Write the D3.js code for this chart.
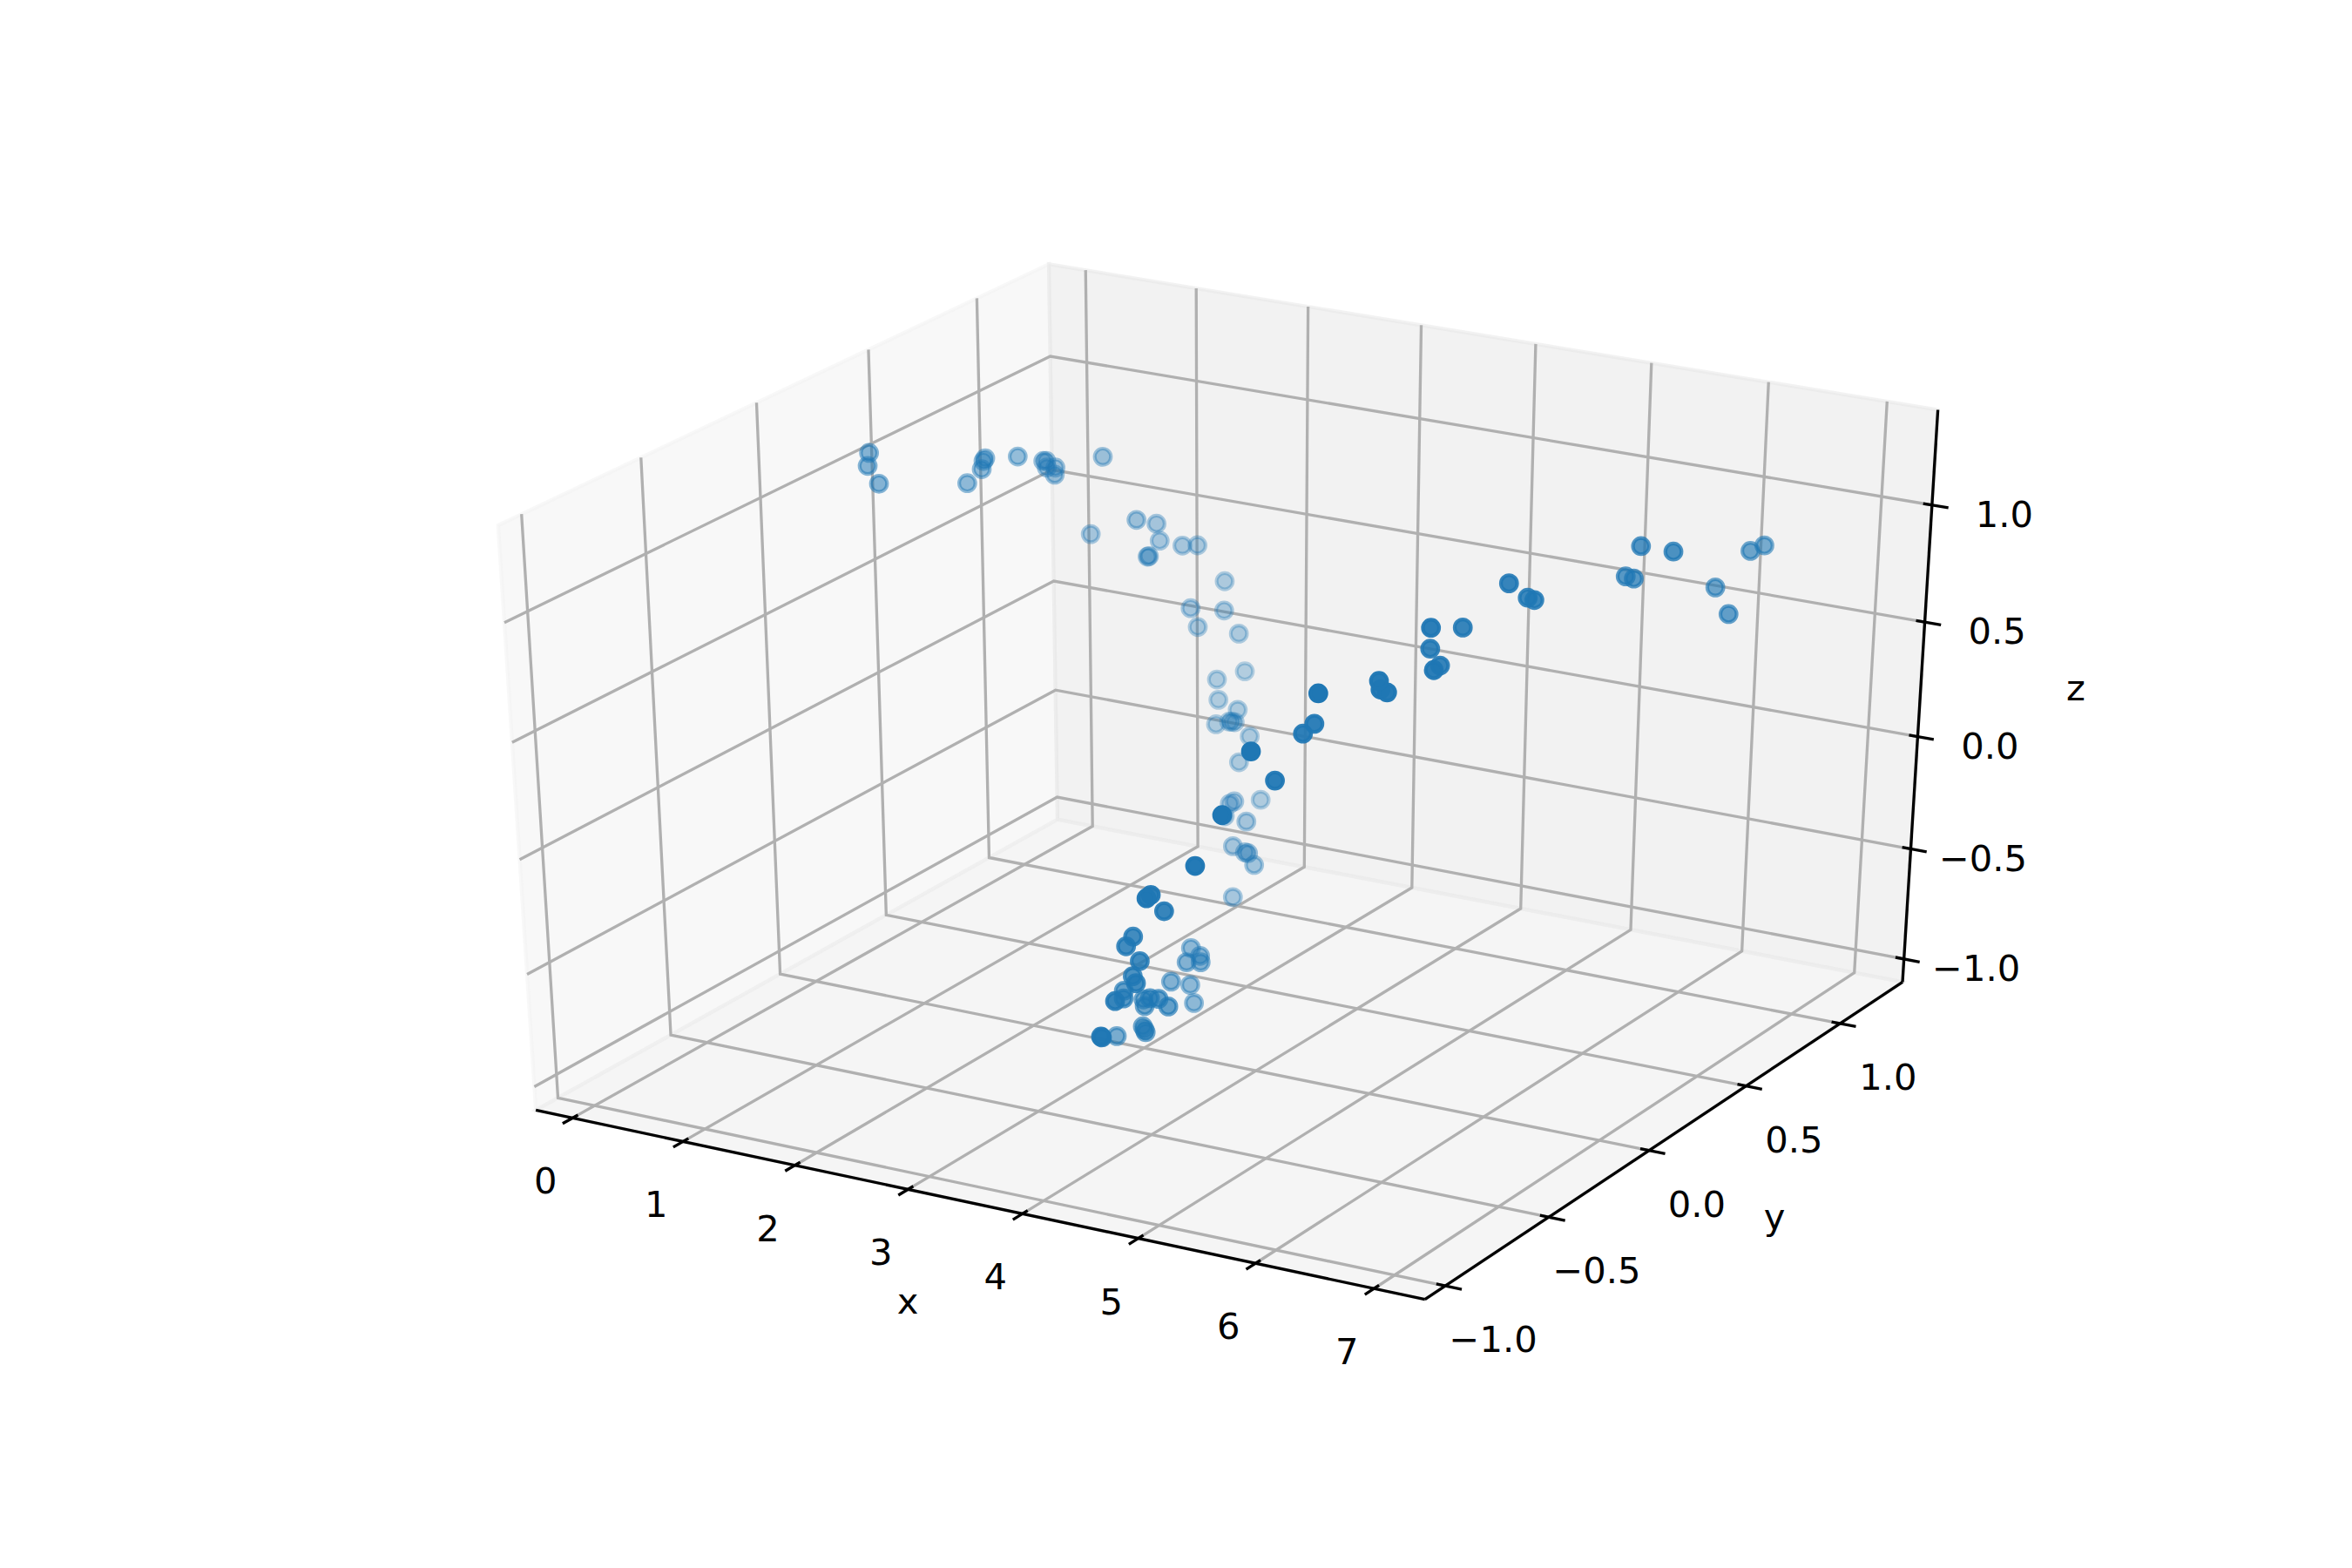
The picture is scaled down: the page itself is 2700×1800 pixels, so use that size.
<!DOCTYPE html>
<html>
<head>
<meta charset="utf-8">
<script src="https://cdn.jsdelivr.net/npm/d3@7"></script>
<style>
  body { margin: 0; background: #fff; }
  text { font-family: "DejaVu Sans"; font-size: 41.67px; fill: #000; text-anchor: middle; }
</style>
</head>
<body>
<div id="chart"></div>
<script>
// values
const xValues = [-0.333,-0.305,-0.177,0.188,0.244,0.232,0.235,0.316,0.414,0.433,0.457,0.516,0.532,0.673,0.652,1.091,1.068,1.098,
  1.276,1.284,1.225,1.286,1.497,1.513,1.665,1.535,1.753,1.784,1.700,1.772,1.976,1.872,1.953,1.971,1.993,2.139,
  2.144,2.366,2.395,2.371,5.194,4.971,4.926,4.933,4.962,4.929,2.415,2.578,2.561,2.824,2.969,2.843,2.715,4.819,
  4.562,4.497,4.422,4.091,4.073,4.203,3.996,4.242,3.569,3.796,4.364,3.072,3.237,3.381,3.287,3.241,3.176,3.255,
  3.905,3.820,3.762,3.519,3.546,3.594,3.630,3.615,3.245,4.383,4.375,5.421,5.454,5.504,5.521,5.523,5.375,5.486,
  5.657,5.693,5.774,5.823,5.840,5.899,5.968,6.269,6.078,6.429,6.202,6.091]
const yValues = [0.487,0.465,0.450,0.670,0.710,0.725,0.732,0.842,0.911,0.915,0.905,0.915,0.903,1.059,1.008,0.997,1.106,1.105,
  0.951,0.953,1.148,1.189,1.209,1.032,1.115,1.055,1.140,1.153,1.060,1.028,1.013,0.962,0.983,0.986,0.989,0.984,
  0.928,0.915,0.768,0.759,-0.373,-0.266,-0.294,-0.538,-0.443,-0.667,0.710,0.728,0.671,0.587,0.523,0.622,0.587,-0.731,
  -0.814,-0.760,-0.660,-0.626,-0.649,-0.656,-0.579,-0.695,-0.395,-0.516,-0.855,0.189,0.144,0.069,0.052,0.002,0.129,0.104,
  -0.367,-0.367,-0.376,-0.277,-0.286,-0.321,-0.327,-0.324,-0.259,-0.926,-0.926,-0.217,-0.228,-0.225,-0.031,0.121,0.051,0.036,
  -0.092,0.242,0.288,0.292,0.737,0.743,0.732,0.715,1.059,0.916,1.159,1.302]
const zValues = [0.966,0.923,0.864,0.795,0.842,0.869,0.878,0.842,0.799,0.799,0.777,0.777,0.753,0.771,0.454,0.559,0.489,0.417,
  0.435,0.437,0.386,0.373,0.222,0.189,0.152,0.096,0.044,-0.129,-0.127,-0.196,-0.215,-0.264,-0.255,-0.255,-0.257,-0.305,
  -0.393,-0.536,-0.464,-0.472,0.846,0.645,0.614,0.665,0.497,0.466,-0.499,-0.517,-0.600,-0.558,-0.514,-0.632,-0.772,0.276,
  0.159,0.138,0.007,-0.153,-0.184,-0.231,-0.360,-0.301,-0.569,-0.512,-0.277,-0.751,-0.745,-0.718,-0.718,-0.782,-0.874,-0.934,
  -0.620,-0.595,-0.593,-0.678,-0.700,-0.766,-0.785,-0.777,-0.880,-0.392,-0.389,0.840,0.813,0.804,0.977,0.904,0.837,0.784,
  0.844,1.044,0.969,0.962,0.848,0.841,0.989,1.000,0.667,0.653,0.786,0.732]

const xTicks = [0, 1, 2, 3, 4, 5, 6, 7]
const yTicks = [-1, -0.5, 0, 0.5, 1]
const zTicks = [-1, -0.5, 0, 0.5, 1]

const xLimits = [-0.18, 7.27]
const yLimits = [-1.0475, 1.292]
const zLimits = [-1.0558, 1.349]

const width = 2700, height = 1800
const color = '#1f77b4'

// data to unit cube
const xWorld = d3.scaleLinear().domain(xLimits).range([0, 1])
const yWorld = d3.scaleLinear().domain(yLimits).range([0, 1])
const zWorld = d3.scaleLinear().domain(zLimits).range([0, 1])

// view plane to pixels
const xScreen = d3.scaleLinear().domain([-0.095, 0.09]).range([1412.2 - 0.095 * 11310, 1412.2 + 0.09 * 11310])
const yScreen = d3.scaleLinear().domain([-0.095, 0.09]).range([876.3 + 0.095 * 7356, 876.3 - 0.09 * 7356])

// camera at elev 30, azim -60, distance 10
const elev = 30 * Math.PI / 180, azim = -60 * Math.PI / 180, dist = 10
const w = [Math.cos(elev) * Math.cos(azim), Math.cos(elev) * Math.sin(azim), Math.sin(elev)]
const u = [-w[1] / Math.hypot(w[0], w[1]), w[0] / Math.hypot(w[0], w[1]), 0]
const v = [w[1] * u[2] - w[2] * u[1], w[2] * u[0] - w[0] * u[2], w[0] * u[1] - w[1] * u[0]]

// takes unit cube coordinates
function project(p) {
  const r = p.map((a) => a - 0.5)
  const depth = d3.sum(r, (a, i) => a * w[i])
  const k = dist - depth
  return {
    x: xScreen(d3.sum(r, (a, i) => a * u[i]) / k),
    y: yScreen(d3.sum(r, (a, i) => a * v[i]) / k),
    z: -dist / k
  }
}

const lineGen = d3.line().x((d) => project(d).x).y((d) => project(d).y)

const low = -1 / 48, high = 49 / 48

const svg = d3.select('#chart').append('svg')
  .attr('width', width)
  .attr('height', height)
  .style('display', 'block')

// panes
const panes = [
  {grey: 0.95, corners: [[low, low, low], [low, high, low], [low, high, high], [low, low, high]]},
  {grey: 0.90, corners: [[low, high, low], [high, high, low], [high, high, high], [low, high, high]]},
  {grey: 0.925, corners: [[low, low, low], [high, low, low], [high, high, low], [low, high, low]]}
]
panes.forEach((pane) => {
  const c = Math.round(pane.grey * 255)
  svg.append('path')
    .attr('d', lineGen(pane.corners) + 'Z')
    .attr('fill', 'rgb(' + c + ',' + c + ',' + c + ')')
    .attr('fill-opacity', 0.5)
    .attr('stroke', 'rgb(' + c + ',' + c + ',' + c + ')')
    .attr('stroke-opacity', 0.5)
    .attr('stroke-width', 4.17)
})

// gridlines
const grid = svg.append('g')
  .attr('fill', 'none')
  .attr('stroke', '#b0b0b0')
  .attr('stroke-width', 3.33)
xTicks.forEach((t) => {
  const a = xWorld(t)
  grid.append('path').attr('d', lineGen([[a, low, low], [a, high, low], [a, high, high]]))
})
yTicks.forEach((t) => {
  const a = yWorld(t)
  grid.append('path').attr('d', lineGen([[high, a, low], [low, a, low], [low, a, high]]))
})
zTicks.forEach((t) => {
  const a = zWorld(t)
  grid.append('path').attr('d', lineGen([[high, high, a], [low, high, a], [low, low, a]]))
})

// axis lines
const axes = svg.append('g')
  .attr('fill', 'none')
  .attr('stroke', '#000')
  .attr('stroke-width', 3.33)
axes.append('path').attr('d', lineGen([[low, low, low], [high, low, low]]))
axes.append('path').attr('d', lineGen([[high, low, low], [high, high, low]]))
axes.append('path').attr('d', lineGen([[high, high, low], [high, high, high]]))

// ticks and their labels
const tickOut = 0.0185, tickIn = 0.01

function tickLabel(t, x, y, digits) {
  const s = digits ? Math.abs(t).toFixed(digits) : String(Math.abs(t))
  svg.append('text')
    .attr('x', x)
    .attr('y', y + 15)
    .text((t < 0 ? '\u2212' : '') + s)
}

xTicks.forEach((t) => {
  const a = xWorld(t)
  axes.append('path').attr('d', lineGen([[a, low - tickOut, low], [a, low + tickIn, low]]))
  const p = project([a, low, low])
  tickLabel(t, p.x - 31, p.y + 72, 0)
})
yTicks.forEach((t) => {
  const a = yWorld(t)
  axes.append('path').attr('d', lineGen([[high + tickOut, a, low], [high - tickIn, a, low]]))
  const p = project([high, a, low])
  tickLabel(t, p.x + 55, p.y + 61, 1)
})
zTicks.forEach((t) => {
  const a = zWorld(t)
  axes.append('path').attr('d', lineGen([[high + tickOut, high, a], [high - tickIn, high, a]]))
  const p = project([high, high, a])
  tickLabel(t, p.x + 83, p.y + 10, 1)
})

// axis titles
svg.append('text').attr('x', 1042).attr('y', 1508).text('x')
svg.append('text').attr('x', 2037).attr('y', 1411).text('y')
svg.append('text').attr('x', 2383).attr('y', 804).text('z')

// points, far ones first, faded by depth
const points = xValues.map((d, i) => project([xWorld(d), yWorld(yValues[i]), zWorld(zValues[i])]))
const depthNorm = d3.scaleLinear().domain(d3.extent(points, (d) => d.z)).range([0, 1])

svg.append('g').selectAll('circle')
  .data(points.slice().sort((a, b) => d3.descending(a.z, b.z)))
  .enter()
  .append('circle')
    .attr('cx', (d) => d.x)
    .attr('cy', (d) => d.y)
    .attr('r', 9.3)
    .attr('fill', color)
    .attr('stroke', color)
    .attr('stroke-width', 4.17)
    .attr('fill-opacity', (d) => 1 - depthNorm(d.z) * 0.7)
    .attr('stroke-opacity', (d) => 1 - depthNorm(d.z) * 0.7)
</script>
</body>
</html>
